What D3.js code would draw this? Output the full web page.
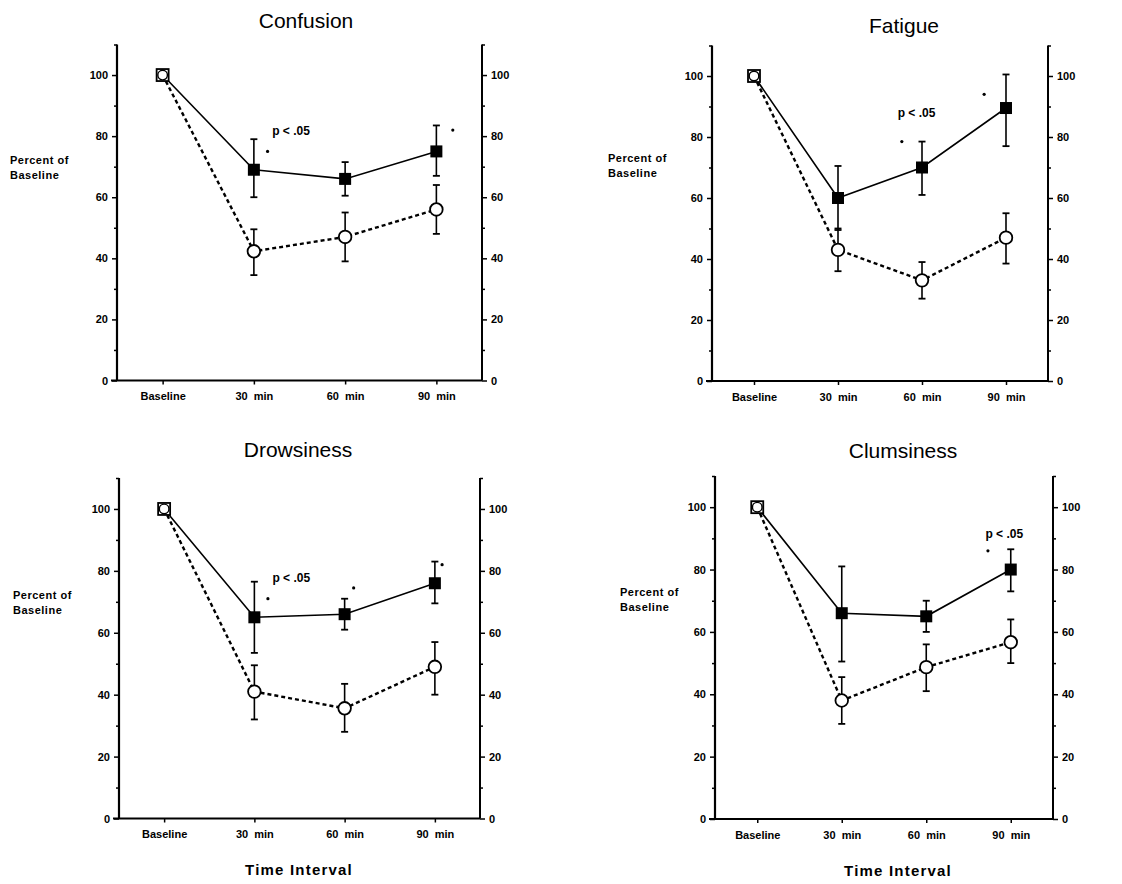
<!DOCTYPE html>
<html>
<head>
<meta charset="utf-8">
<script src="https://cdn.jsdelivr.net/npm/d3@7"></script>
<style>
  body { margin: 0; background: #fff; }
  svg { font-family: "Liberation Sans", Arial, sans-serif; }
</style>
</head>
<body>
<div id="container"></div>
<script>
// données
const categories = ['Baseline', '30  min', '60  min', '90  min']
const yTicks = [0, 20, 40, 60, 80, 100]
const titles = ['Confusion', 'Fatigue', 'Drowsiness', 'Clumsiness']

// carrés pleins
const filledMean = [[100, 69, 66, 75], [100, 60, 70, 89.5], [100, 65, 66, 76], [100, 66, 65, 80]]
const filledHigh = [[100, 79, 71.5, 83.5], [100, 70.5, 78.5, 100.5], [100, 76.5, 71, 83], [100, 81, 70, 86.5]]
const filledLow = [[100, 60, 60.5, 67], [100, 49.5, 61, 77], [100, 53.5, 61, 69.5], [100, 50.5, 60, 73]]

// cercles vides
const openMean = [[100, 42.3, 47, 56], [100, 43, 33, 47], [100, 41, 35.6, 49], [100, 38, 48.7, 56.7]]
const openHigh = [[100, 49.5, 55, 64], [100, 50, 39, 55], [100, 49.5, 43.5, 57], [100, 45.5, 56, 64]]
const openLow = [[100, 34.5, 39, 48], [100, 36, 27, 38.5], [100, 32, 28, 40], [100, 30.5, 41, 50]]

// astérisques et "p < .05"
const starIdx = [[1.15, 3.18], [1.76, 2.74], [1.15, 2.1, 3.08], [2.73]]
const starVal = [[75, 82], [78.5, 94], [71, 74.5, 82], [86]]
const pIdx = [1.2, 1.71, 1.2, 2.7]
const pVal = [80.5, 86.5, 76.5, 90]

// mise en page des 4 panneaux
const layout = [
  { left: 117, right: 482, y0: 380.5, top: 44.5, title: [306, 28], ylab: [10, 164] },
  { left: 712, right: 1048, y0: 381, top: 45.5, title: [904, 33], ylab: [608, 162] },
  { left: 119, right: 480, y0: 818.5, top: 478, title: [298, 457], ylab: [13, 599] },
  { left: 715, right: 1053, y0: 819, top: 476, title: [903, 458], ylab: [620, 596] }
]
const xLabelPos = [[299, 875], [898, 876]]

const svg = d3.select('#container').append('svg')
  .attr('width', 1122)
  .attr('height', 884)

function drawPanel(p) {
  const L = layout[p]
  const g = svg.append('g')

  const x = d3.scaleLinear().domain([-0.5, 3.5]).range([L.left, L.right])
  const y = d3.scaleLinear().domain([0, 110]).range([L.y0, L.top])

  // titre
  g.append('text')
    .attr('x', L.title[0]).attr('y', L.title[1])
    .attr('text-anchor', 'middle')
    .attr('font-size', 21)
    .text(titles[p])

  // axe gauche
  const minor = d3.range(0, 111, 10)
  const leftAxis = d3.axisLeft(y).tickValues(minor).tickSize(5).tickPadding(4)
    .tickFormat(d => yTicks.includes(d) ? d : '')
  const ga = g.append('g').attr('transform', `translate(${L.left},0)`).call(leftAxis)
  ga.select('.domain').remove()
  ga.selectAll('.tick line').attr('stroke', '#000').attr('stroke-width', 1.5)
    .attr('x2', d => yTicks.includes(d) ? -5 : -3)
  ga.selectAll('.tick text').attr('font-size', 11).attr('font-weight', 'bold').attr('fill', '#000')

  const axisRight = d3.axisRight(y).tickValues(minor).tickSize(5).tickPadding(4)
    .tickFormat(d => yTicks.includes(d) ? d : '')
  const gr = g.append('g').attr('transform', `translate(${L.right},0)`).call(axisRight)
  gr.select('.domain').remove()
  gr.selectAll('.tick line').attr('stroke', '#000').attr('stroke-width', 1.5)
    .attr('x2', d => yTicks.includes(d) ? 5 : 3)
  gr.selectAll('.tick text').attr('font-size', 11).attr('font-weight', 'bold').attr('fill', '#000')

  // lignes des axes
  g.append('line')
    .attr('x1', L.left).attr('x2', L.left)
    .attr('y1', y(110)).attr('y2', y(0))
    .attr('stroke', '#000').attr('stroke-width', 2.2)
  g.append('line')
    .attr('x1', L.right).attr('x2', L.right)
    .attr('y1', y(110)).attr('y2', y(0))
    .attr('stroke', '#000').attr('stroke-width', 2)

  // axe du bas
  const bottom = d3.axisBottom(x).tickValues([0, 1, 2, 3]).tickSize(4).tickPadding(8)
    .tickFormat(i => categories[i])
  const gb = g.append('g').attr('transform', `translate(0,${L.y0})`).call(bottom)
  gb.select('.domain').remove()
  gb.selectAll('.tick line').attr('stroke', '#000').attr('stroke-width', 1.5)
  gb.selectAll('.tick text').attr('font-size', 11).attr('font-weight', 'bold').attr('fill', '#000')
    .style('white-space', 'pre')
  g.append('line')
    .attr('x1', L.left - 6).attr('x2', L.right)
    .attr('y1', L.y0).attr('y2', L.y0)
    .attr('stroke', '#000').attr('stroke-width', 2)

  // titre de l'axe y
  g.append('text')
    .attr('x', L.ylab[0]).attr('y', L.ylab[1])
    .attr('font-size', 11).attr('font-weight', 'bold').attr('letter-spacing', 0.5)
    .text('Percent of')
  g.append('text')
    .attr('x', L.ylab[0]).attr('y', L.ylab[1] + 15)
    .attr('font-size', 11).attr('font-weight', 'bold').attr('letter-spacing', 0.5)
    .text('Baseline')

  // barres d'erreur
  const drawErr = (hi, lo) => {
    [1, 2, 3].forEach(i => {
      g.append('line')
        .attr('x1', x(i)).attr('x2', x(i))
        .attr('y1', y(hi[i])).attr('y2', y(lo[i]))
        .attr('stroke', '#000').attr('stroke-width', 1.6)
      ;[hi[i], lo[i]].forEach(v => {
        g.append('line')
          .attr('x1', x(i) - 3.5).attr('x2', x(i) + 3.5)
          .attr('y1', y(v)).attr('y2', y(v))
          .attr('stroke', '#000').attr('stroke-width', 1.8)
      })
    })
  }
  drawErr(filledHigh[p], filledLow[p])
  drawErr(openHigh[p], openLow[p])

  const line = d3.line().x((d, i) => x(i)).y(d => y(d))

  g.append('path')
    .attr('d', line(openMean[p]))
    .attr('fill', 'none').attr('stroke', '#000')
    .attr('stroke-width', 2.4).attr('stroke-dasharray', '4,3')
  g.append('path')
    .attr('d', line(filledMean[p]))
    .attr('fill', 'none').attr('stroke', '#000')
    .attr('stroke-width', 1.6)

  // carrés (le point de base est un carré vide)
  filledMean[p].forEach((v, i) => {
    g.append('rect')
      .attr('x', x(i) - 6).attr('y', y(v) - 6)
      .attr('width', 12).attr('height', 12)
      .attr('fill', i === 0 ? '#fff' : '#000')
      .attr('stroke', '#000').attr('stroke-width', i === 0 ? 1.8 : 0)
  })
  // cercles
  openMean[p].forEach((v, i) => {
    g.append('circle')
      .attr('cx', x(i)).attr('cy', y(v))
      .attr('r', i === 0 ? 4.8 : 6.3)
      .attr('fill', '#fff').attr('stroke', '#000').attr('stroke-width', i === 0 ? 1.4 : 1.8)
  })

  // astérisques
  starIdx[p].forEach((s, k) => {
    g.append('circle')
      .attr('cx', x(s)).attr('cy', y(starVal[p][k]))
      .attr('r', 1.6).attr('fill', '#000')
  })
  g.append('text')
    .attr('x', x(pIdx[p])).attr('y', y(pVal[p]))
    .attr('font-size', 12).attr('font-weight', 'bold')
    .style('white-space', 'pre')
    .text('p < .05')
}

for (let p = 0; p < 4; p++) drawPanel(p)

xLabelPos.forEach(pos => {
  svg.append('text')
    .attr('x', pos[0]).attr('y', pos[1])
    .attr('text-anchor', 'middle')
    .attr('font-size', 15).attr('font-weight', 'bold').attr('letter-spacing', 1.2)
    .text('Time Interval')
})
</script>
</body>
</html>
